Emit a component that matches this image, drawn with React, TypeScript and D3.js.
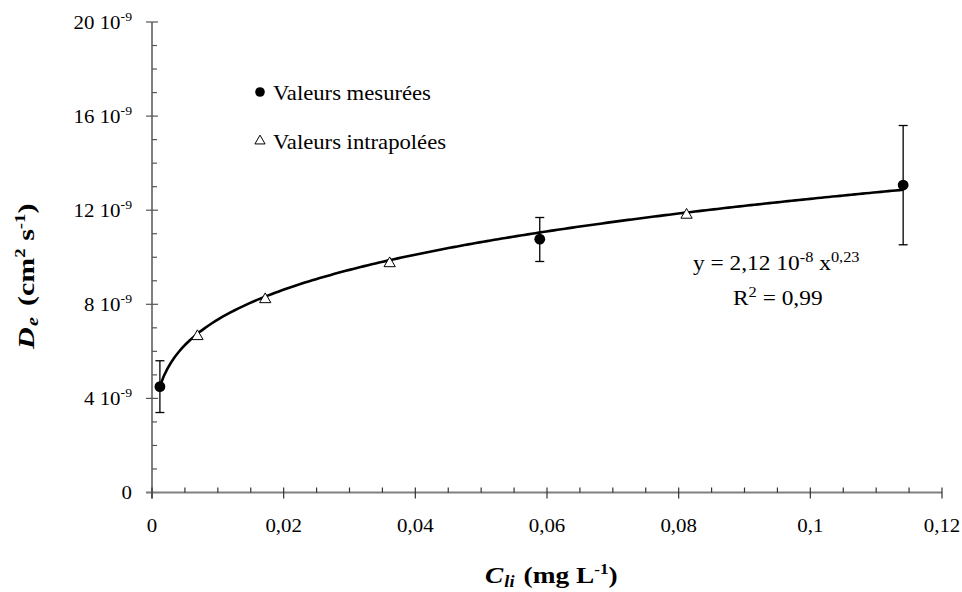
import React from "react";
import * as d3 from "d3";

const measuredX = [0.0012, 0.0589, 0.1141];
const measuredY = [4.5e-9, 10.77e-9, 13.07e-9];
const measuredLow = [3.4e-9, 9.82e-9, 10.53e-9];
const measuredHigh = [5.6e-9, 11.69e-9, 15.6e-9];

const interpX = [0.0069, 0.0172, 0.0361, 0.0812];
const interpY = [6.68e-9, 8.25e-9, 9.78e-9, 11.84e-9];

const fitA = 2.12e-8;
const fitB = 0.23;

const xMajorTicks = [0, 0.02, 0.04, 0.06, 0.08, 0.1, 0.12];
const xTickLabels = ["0", "0,02", "0,04", "0,06", "0,08", "0,1", "0,12"];
const yMajorTicks = [0, 4e-9, 8e-9, 12e-9, 16e-9, 20e-9];
const yTickLabels = ["0", "4", "8", "12", "16", "20"];

const W = 962;
const H = 592;
const FONT = "Liberation Serif, DejaVu Serif, serif";

type TProps = {
  x: number;
  y: number;
  size: number;
  sx?: number;
  rotate?: number;
  anchor?: "start" | "middle" | "end";
  bold?: boolean;
  children: React.ReactNode;
};

function T({ x, y, size, sx = 1, rotate = 0, anchor = "start", bold = false, children }: TProps) {
  return (
    <text
      transform={`translate(${x},${y}) rotate(${rotate}) scale(${sx},1)`}
      x={0}
      y={0}
      fontSize={size}
      fontFamily={FONT}
      fontWeight={bold ? "bold" : "normal"}
      textAnchor={anchor}
      fill="#000"
    >
      {children}
    </text>
  );
}

export default function App() {
  const x = d3.scaleLinear().domain([0, 0.12]).range([152, 942]);
  const y = d3.scaleLinear().domain([0, 20e-9]).range([492.5, 22]);

  const xMinor = d3.range(0, 0.1201, 0.005).filter((v) => Math.abs(v / 0.02 - Math.round(v / 0.02)) > 1e-6);
  const yMinor = d3.range(0, 20.01e-9, 1e-9).filter((v) => Math.abs(v / 4e-9 - Math.round(v / 4e-9)) > 1e-6);

  const curveXs = d3.range(0, 201).map((i) => measuredX[0] + (i / 200) * (measuredX[2] - measuredX[0]));
  const line = d3
    .line<number>()
    .x((d) => x(d))
    .y((d) => y(fitA * Math.pow(d, fitB)))
    .curve(d3.curveLinear);

  const tri = d3.symbol().type(d3.symbolTriangle).size(55);
  const triLegend = d3.symbol().type(d3.symbolTriangle).size(45);
  const axisY0 = y(0);
  const axisX0 = x(0);

  return (
    <svg width={W} height={H} style={{ position: "absolute", left: 0, top: 0, background: "#fff" }}>
      {/* Y axis */}
      <line x1={axisX0} x2={axisX0} y1={y(20e-9)} y2={axisY0 + 6} stroke="#808080" strokeWidth={2} />
      {yMajorTicks.map((v, i) => (
        <g key={"ym" + i}>
          <line x1={axisX0 - 6} x2={axisX0 + 6} y1={y(v)} y2={y(v)} stroke="#555" strokeWidth={1.2} />
          <T x={132} y={y(v) + 6.5} size={19} sx={1.1} anchor="end">
            {i === 0 ? (
              "0"
            ) : (
              <>
                {yTickLabels[i] + " 10"}
                <tspan dy={-8} fontSize={12.5}>-9</tspan>
              </>
            )}
          </T>
        </g>
      ))}
      {yMinor.map((v, i) => (
        <line key={"yn" + i} x1={axisX0} x2={axisX0 + 5} y1={y(v)} y2={y(v)} stroke="#555" strokeWidth={1.2} />
      ))}

      {/* X axis */}
      <line x1={axisX0 - 6} x2={x(0.12)} y1={axisY0} y2={axisY0} stroke="#808080" strokeWidth={2} />
      {xMajorTicks.map((v, i) => (
        <g key={"xm" + i}>
          <line x1={x(v)} x2={x(v)} y1={axisY0 - 5} y2={axisY0 + 6} stroke="#333" strokeWidth={1.2} />
          <T x={x(v)} y={532} size={19} sx={1.1} anchor="middle">
            {xTickLabels[i]}
          </T>
        </g>
      ))}
      {xMinor.map((v, i) => (
        <line key={"xn" + i} x1={x(v)} x2={x(v)} y1={axisY0 - 5} y2={axisY0} stroke="#333" strokeWidth={1.2} />
      ))}

      {/* Fit curve */}
      <path d={line(curveXs) || ""} fill="none" stroke="#000" strokeWidth={2.6} />

      {/* Error bars */}
      {measuredX.map((v, i) => (
        <g key={"eb" + i} stroke="#000" strokeWidth={1.3}>
          <line x1={x(v)} x2={x(v)} y1={y(measuredLow[i])} y2={y(measuredHigh[i])} />
          <line x1={x(v) - 4.5} x2={x(v) + 4.5} y1={y(measuredLow[i])} y2={y(measuredLow[i])} />
          <line x1={x(v) - 4.5} x2={x(v) + 4.5} y1={y(measuredHigh[i])} y2={y(measuredHigh[i])} />
        </g>
      ))}

      {/* Measured points */}
      {measuredX.map((v, i) => (
        <circle key={"mp" + i} cx={x(v)} cy={y(measuredY[i])} r={5.4} fill="#000" />
      ))}

      {/* Interpolated points */}
      {interpX.map((v, i) => (
        <path
          key={"ip" + i}
          d={tri() || ""}
          transform={`translate(${x(v)},${y(interpY[i]) + 1})`}
          fill="#fff"
          stroke="#000"
          strokeWidth={1}
        />
      ))}

      {/* Legend */}
      <circle cx={260} cy={92} r={4.8} fill="#000" />
      <T x={273} y={99.5} size={21.5} sx={1.055}>Valeurs mesurées</T>
      <path d={triLegend() || ""} transform="translate(260,141)" fill="#fff" stroke="#000" strokeWidth={1} />
      <T x={273} y={149} size={21.5} sx={1.055}>Valeurs intrapolées</T>

      {/* Equation */}
      <T x={693} y={270} size={20} sx={1.17}>
        y = 2,12 10<tspan dy={-8} fontSize={14}>-8</tspan>
        <tspan dy={8}> x</tspan>
        <tspan dy={-8} fontSize={14}>0,23</tspan>
      </T>
      <T x={733} y={305} size={20} sx={1.17}>
        R<tspan dy={-8} fontSize={14}>2</tspan>
        <tspan dy={8}> = 0,99</tspan>
      </T>

      {/* X title */}
      <T x={485} y={583} size={24} sx={1.14} bold>
        <tspan fontStyle="italic">C</tspan>
        <tspan fontStyle="italic" fontSize={16} dy={4} dx={1}>li</tspan>
        <tspan dy={-4} dx={8}>(mg L</tspan>
        <tspan dy={-9} fontSize={15}>-1</tspan>
        <tspan dy={9}>)</tspan>
      </T>

      {/* Y title */}
      <T x={34} y={349} size={24} sx={1.25} rotate={-90} bold>
        <tspan fontStyle="italic">D</tspan>
        <tspan fontStyle="italic" fontSize={16} dy={4} dx={1}>e</tspan>
        <tspan dy={-4} dx={9}>(cm</tspan>
        <tspan dy={-9} fontSize={15}>2</tspan>
        <tspan dy={9}> s</tspan>
        <tspan dy={-9} fontSize={15}>-1</tspan>
        <tspan dy={9}>)</tspan>
      </T>
    </svg>
  );
}
